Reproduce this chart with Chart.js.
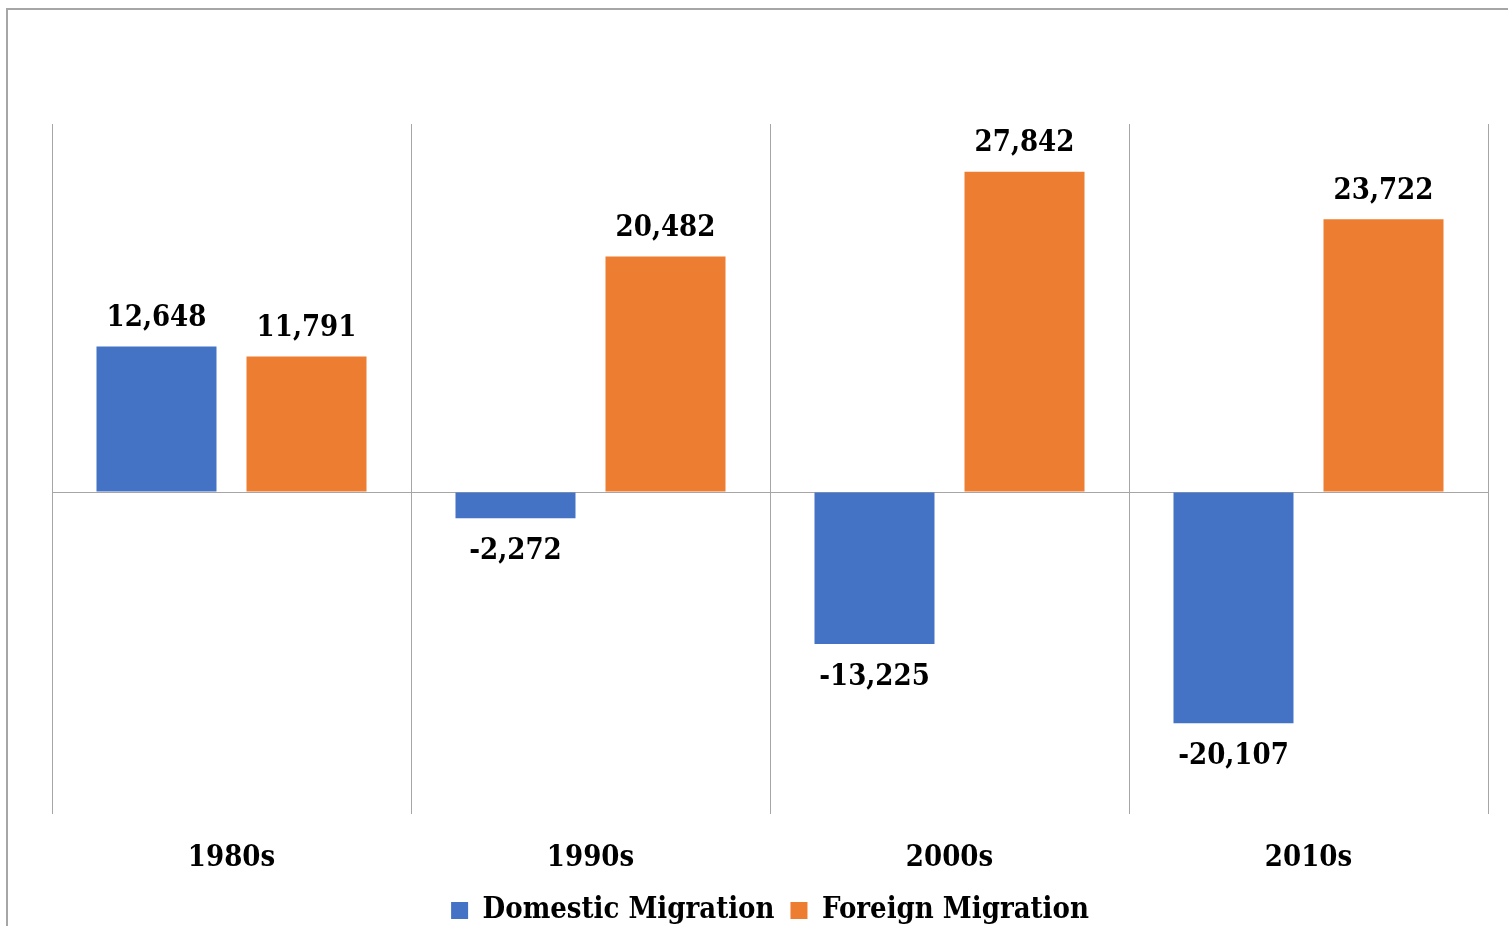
<!DOCTYPE html>
<html>
<head>
<meta charset="utf-8">
<script src="https://cdn.jsdelivr.net/npm/chart.js@4.4.1/dist/chart.umd.min.js"></script>
<style>
  html,body{margin:0;padding:0;background:#fff;overflow:hidden;width:1508px;height:926px;}
  #frame{position:absolute;left:6px;top:8px;width:2000px;height:2000px;border-left:2px solid #a6a6a6;border-top:2px solid #a6a6a6;}
  #wrap{position:absolute;left:0;top:0;width:1508px;height:935px;}
</style>
</head>
<body>
<div id="frame"></div>
<div id="wrap"><canvas id="chart"></canvas></div>
<script>
// datos
const decadas = ['1980s', '1990s', '2000s', '2010s'];
const domestica = [12648, -2272, -13225, -20107];
const extranjera = [11791, 20482, 27842, 23722];
const nombresSeries = ['Domestic Migration', 'Foreign Migration'];
const colores = ['#4472C4', '#ED7D31'];

const fuente = '"DejaVu Serif Condensed", "DejaVu Serif", serif';

// etiquetas de valor encima / debajo de cada barra
const etiquetasValor = {
  id: 'etiquetasValor',
  afterDatasetsDraw(chart){
    const ctx = chart.ctx;
    ctx.save();
    ctx.font = 'bold 29px ' + fuente;
    ctx.fillStyle = '#000';
    ctx.textAlign = 'center';
    ctx.textBaseline = 'middle';
    chart.data.datasets.forEach((ds, i)=>{
      const meta = chart.getDatasetMeta(i);
      meta.data.forEach((bar, j)=>{
        const v = ds.data[j];
        const txt = v.toLocaleString('en-US');
        const y = v >= 0 ? bar.y - 28 : bar.y + 33;
        ctx.fillText(txt, bar.x, y);
      });
    });
    ctx.restore();
  }
};

new Chart(document.getElementById('chart'), {
  type: 'bar',
  data: {
    labels: decadas,
    datasets: [
      {label: nombresSeries[0], data: domestica, backgroundColor: colores[0]},
      {label: nombresSeries[1], data: extranjera, backgroundColor: colores[1]}
    ]
  },
  options: {
    responsive: true,
    maintainAspectRatio: false,
    animation: false,
    categoryPercentage: 0.8357,
    barPercentage: 0.8,
    layout: {padding: {left: 52, right: 20, top: 124, bottom: 0}},
    plugins: {
      tooltip: {enabled: false},
      legend: {
        position: 'bottom',
        labels: {
          boxWidth: 17, boxHeight: 17, padding: 16,
          color: '#000',
          font: {family: fuente, size: 29, weight: 'bold'}
        }
      }
    },
    scales: {
      x: {
        grid: {color: '#a6a6a6', lineWidth: 1, drawTicks: false},
        border: {display: false},
        ticks: {color: '#000', padding: 27, font: {family: fuente, size: 29, weight: 'bold'}},
        afterFit(scale){ scale.height = 66; }
      },
      y: {
        min: -28000, max: 32000,
        ticks: {display: false, stepSize: 4000},
        border: {display: false},
        grid: {
          drawTicks: false,
          lineWidth: 1,
          color: c => c.tick && c.tick.value === 0 ? '#a6a6a6' : 'rgba(0,0,0,0)'
        }
      }
    }
  },
  plugins: [etiquetasValor]
});
</script>
</body>
</html>
